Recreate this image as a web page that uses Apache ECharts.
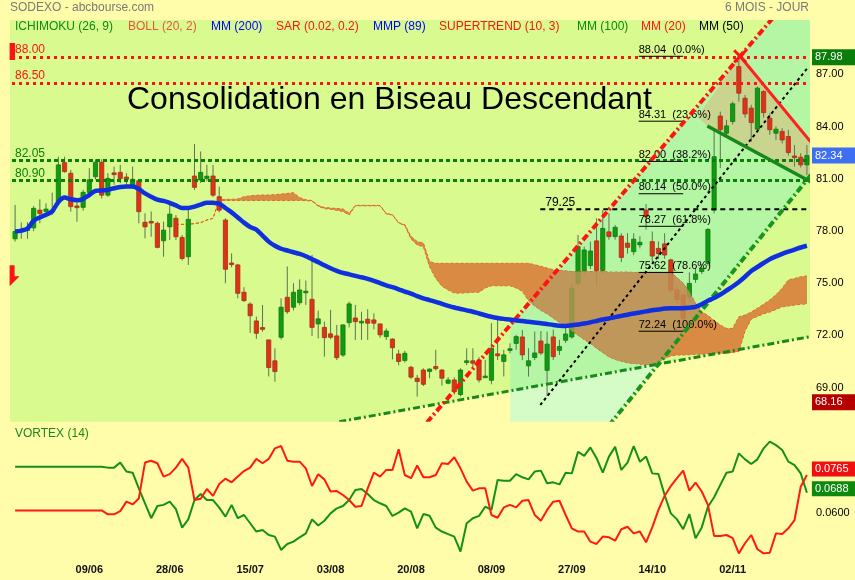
<!DOCTYPE html>
<html>
<head>
<meta charset="utf-8">
<title>SODEXO - 6 mois</title>
<script src="https://cdn.jsdelivr.net/npm/echarts@6.0.0/dist/echarts.min.js"></script>
<style>
  html, body { margin: 0; padding: 0; background: #fffcaa; }
  #chart { width: 855px; height: 580px; }
</style>
</head>
<body>
<div id="chart"></div>
<script>
const FONT = '"Liberation Sans", Arial, Helvetica, sans-serif';

// ---------- time axis: trading days starting 24/05/2021 ----------
const firstDay = [2021, 4, 24];
const dayCount = 129;
const dates = [];
{
  const d = new Date(Date.UTC(firstDay[0], firstDay[1], firstDay[2]));
  const p = n => (n < 10 ? '0' : '') + n;
  while (dates.length < dayCount) {
    const wd = d.getUTCDay();
    if (wd !== 0 && wd !== 6) dates.push(p(d.getUTCDate()) + '/' + p(d.getUTCMonth() + 1));
    d.setUTCDate(d.getUTCDate() + 1);
  }
}
const dateTicks = ['09/06', '28/06', '15/07', '03/08', '20/08', '08/09', '27/09', '14/10', '02/11'];
const priceTicks = [69, 72, 75, 78, 81, 84, 87];
const vortexTicks = [0.06, 0.08];

// ---------- daily candles: [open, close, low, high] ----------
const candles = [
  [77.55,77.97,77.39,79.50],[78.00,78.06,77.55,78.49],[78.08,78.12,77.55,78.51],[78.18,79.30,77.99,79.44],
  [79.20,79.01,78.44,79.82],[79.13,79.26,78.78,79.59],[79.15,79.19,78.93,80.20],[79.69,81.80,79.57,82.27],
  [81.93,81.41,81.35,82.27],[81.32,79.40,79.11,81.51],[79.44,79.34,78.53,79.79],[79.36,80.22,79.17,80.36],
  [80.22,80.94,80.16,81.61],[81.12,81.95,80.96,82.12],[81.95,80.06,79.87,82.12],[80.06,81.02,79.96,81.32],
  [81.34,81.24,80.65,81.70],[81.37,81.01,80.75,81.80],[81.10,80.97,80.65,81.32],[80.65,80.97,80.46,81.70],
  [80.89,79.11,78.44,80.93],[78.50,78.24,77.58,79.02],[78.55,78.51,77.67,79.12],[78.44,77.06,77.00,78.54],
  [77.44,78.05,76.52,78.54],[78.24,78.97,77.48,79.59],[78.73,77.67,77.48,78.92],[77.63,76.42,76.30,77.77],
  [76.52,78.67,76.05,79.40],[81.16,80.51,80.36,83.00],[80.93,81.37,80.76,82.57],[81.02,81.15,80.86,81.80],
  [81.16,80.06,79.96,81.80],[79.97,79.20,79.07,80.55],[78.63,75.80,75.00,78.73],[76.16,76.11,75.91,76.71],
  [76.05,74.42,74.13,76.11],[74.48,74.00,73.92,74.77],[73.80,73.13,72.14,73.90],[72.83,72.12,71.80,73.08],
  [72.45,72.35,72.21,73.75],[71.74,70.15,69.64,71.74],[70.54,69.92,69.34,71.26],[71.89,73.62,71.76,74.13],
  [74.19,73.36,73.24,75.96],[73.62,74.48,73.44,75.00],[73.88,74.61,73.74,75.22],[74.52,74.54,73.75,75.15],
  [74.07,72.46,71.97,76.63],[72.66,72.95,71.83,73.42],[72.46,71.87,70.78,72.79],[72.09,71.89,71.78,73.46],
  [71.97,70.72,70.58,72.60],[70.87,72.60,70.77,72.64],[72.73,73.81,72.46,73.94],[73.00,72.79,71.74,73.75],
  [72.77,72.81,71.74,73.36],[72.93,72.70,71.74,73.50],[72.89,72.70,72.35,73.27],[72.66,72.03,71.86,72.66],
  [71.93,72.25,71.74,72.40],[71.79,71.29,70.62,71.83],[70.93,70.50,70.28,71.17],[70.56,70.97,70.44,71.11],
  [70.17,69.60,69.49,70.25],[69.54,69.35,68.48,69.73],[70.01,69.19,69.09,70.11],[69.93,70.06,69.54,70.11],
  [70.21,70.09,69.98,71.17],[70.01,69.54,69.11,70.06],[69.25,69.44,69.19,69.60],[69.44,68.77,68.60,69.59],
  [68.60,70.01,68.50,70.11],[70.44,70.54,70.28,71.26],[70.54,70.40,70.18,71.26],[70.59,69.44,69.29,70.75],
  [69.62,69.66,69.59,70.59],[69.42,71.26,69.19,72.71],[70.94,70.83,70.58,72.89],[70.50,70.88,69.64,71.17],
  [71.17,71.23,70.97,71.54],[71.54,71.93,71.17,72.03],[71.91,70.88,70.58,72.31],[70.25,70.54,69.63,71.26],
  [70.73,70.99,70.58,72.22],[71.68,70.99,70.87,72.25],[69.99,71.50,68.52,72.22],[71.91,70.78,70.58,72.33],
  [71.14,71.36,70.87,71.74],[71.72,72.08,71.56,72.75],[71.91,74.71,71.81,75.00],[75.00,77.10,74.83,77.77],
  [75.71,76.91,75.52,77.10],[76.01,76.85,75.81,77.39],[77.43,75.73,74.81,78.73],[75.73,78.15,75.52,79.20],
  [77.95,77.68,77.50,79.01],[77.68,78.21,77.50,78.34],[77.71,76.48,76.21,77.87],[77.30,77.06,76.70,77.87],
  [76.81,77.53,76.61,77.87],[77.20,77.35,77.00,77.70],[79.20,78.83,78.08,79.55],[77.39,76.56,76.21,77.97],
  [77.00,76.70,76.40,77.40],[77.26,76.62,76.40,77.87],[76.34,74.61,74.43,76.41],[74.61,74.07,73.84,74.83],
  [74.32,72.98,72.24,74.43],[74.22,74.99,73.93,75.62],[75.22,75.53,75.02,75.87],[75.67,75.86,75.52,76.12],
  [76.14,78.09,76.01,78.16],[79.20,82.27,79.01,83.91],[84.61,83.82,81.61,84.86],[83.62,84.04,83.43,84.39],
  [84.29,85.31,84.12,85.44],[87.45,85.92,85.43,88.04],[85.63,84.73,84.51,85.82],[85.06,84.23,83.13,85.25],
  [83.85,86.21,83.72,86.30],[86.01,84.80,84.51,86.10],[84.48,83.82,83.53,84.76],[83.62,83.85,83.23,84.02],
  [83.72,83.23,83.03,83.91],[83.43,82.51,82.34,83.81],[82.31,82.24,81.70,82.94],[82.24,81.80,81.65,82.47],
  [81.80,82.34,81.22,82.94]
];

// ---------- moving average (blue) ----------
const movingAverage = [
  77.97,78.02,78.15,78.59,78.78,78.93,79.13,79.67,79.92,79.82,79.77,79.85,80.07,80.30,80.33,80.36,
  80.46,80.53,80.55,80.55,80.41,80.16,79.97,79.80,79.73,79.62,79.47,79.32,79.32,79.40,79.52,79.63,
  79.62,79.57,79.32,79.07,78.78,78.48,78.23,78.08,77.74,77.39,77.15,76.98,76.88,76.78,76.68,76.55,
  76.38,76.21,76.03,75.86,75.71,75.59,75.51,75.42,75.34,75.25,75.14,75.00,74.87,74.77,74.65,74.52,
  74.40,74.26,74.13,74.03,73.93,73.81,73.70,73.60,73.52,73.44,73.36,73.26,73.16,73.07,73.00,72.95,
  72.91,72.86,72.83,72.78,72.74,72.70,72.65,72.60,72.56,72.54,72.58,72.63,72.68,72.75,72.83,72.91,
  72.98,73.05,73.12,73.19,73.26,73.32,73.38,73.44,73.49,73.54,73.56,73.56,73.56,73.59,73.64,73.79,
  73.99,74.15,74.35,74.58,74.81,75.07,75.37,75.70,75.93,76.16,76.38,76.54,76.68,76.81,76.93,77.05,
  77.15
];

// ---------- Ichimoku cloud edges, from session index 26 ----------
const cloudStart = 26;
const cloudTop = [
  78.38,78.38,78.38,78.43,78.48,78.63,78.73,79.79,79.82,79.82,79.84,79.97,80.02,80.05,80.07,80.07,
  80.09,80.12,80.16,80.20,79.92,79.79,79.75,79.47,79.35,79.32,79.29,79.27,79.02,79.47,79.47,79.47,
  79.47,79.47,79.00,78.94,78.48,78.36,77.69,77.39,77.31,76.24,76.14,76.14,76.14,76.14,76.14,76.14,
  76.14,76.14,76.14,76.14,76.14,76.14,76.14,76.14,76.14,76.14,76.06,75.97,75.87,75.77,75.72,75.71,
  75.67,75.67,75.67,75.67,75.67,75.67,75.64,75.64,75.64,75.64,75.62,75.62,75.62,75.62,75.62,75.62,
  75.61,75.32,74.99,74.53,73.84,73.36,73.14,72.85,72.60,72.40,72.40,73.07,73.17,73.34,73.56,73.79,
  74.03,74.33,74.71,75.19,75.27,75.37,75.42
];
const cloudBottom = [
  78.38,78.38,78.38,78.43,78.48,78.63,78.73,79.77,79.75,79.75,79.75,79.75,79.75,79.75,79.75,79.75,
  79.75,79.75,79.75,79.75,79.75,79.75,79.72,79.42,79.29,79.25,79.19,79.12,78.92,79.45,79.45,79.45,
  79.45,79.45,78.98,78.92,78.46,78.32,77.54,77.20,77.10,75.95,75.28,74.83,74.61,74.43,74.43,74.45,
  74.48,74.48,74.73,74.85,74.85,74.85,74.85,74.73,74.53,73.99,73.69,73.44,73.24,72.99,72.75,72.55,
  72.25,72.01,71.76,71.54,71.26,71.02,70.77,70.62,70.52,70.42,70.39,70.35,70.33,70.32,70.47,70.67,
  70.82,70.87,70.87,70.89,70.92,70.92,70.95,70.97,70.97,70.97,71.02,71.07,72.25,72.94,73.09,73.24,
  73.34,73.49,73.64,73.69,73.74,73.79,73.81
];

// ---------- Vortex (14) ----------
const vortexPlus = [
  0.0801,0.0801,0.0801,0.0801,0.0801,0.0801,0.0801,0.0801,0.0801,0.0801,0.0801,0.0801,0.0801,0.0801,0.0801,
  0.0797,0.0797,0.0819,0.0780,0.0775,0.0707,0.0642,0.0577,0.0630,0.0635,0.0649,0.0616,0.0536,0.0572,0.0656,
  0.0682,0.0656,0.0656,0.0623,0.0584,0.0635,0.0577,0.0591,0.0555,0.0519,0.0526,0.0504,0.0497,0.0439,0.0465,
  0.0475,0.0494,0.0511,0.0572,0.0545,0.0566,0.0598,0.0620,0.0630,0.0656,0.0700,0.0704,0.0682,0.0656,0.0642,
  0.0630,0.0587,0.0601,0.0620,0.0606,0.0533,0.0595,0.0588,0.0536,0.0519,0.0508,0.0497,0.0432,0.0555,0.0577,
  0.0587,0.0627,0.0613,0.0743,0.0740,0.0740,0.0769,0.0755,0.0746,0.0780,0.0784,0.0729,0.0733,0.0724,0.0775,
  0.0772,0.0866,0.0848,0.0885,0.0838,0.0775,0.0845,0.0888,0.0787,0.0819,0.0891,0.0823,0.0845,0.0772,0.0769,
  0.0678,0.0598,0.0572,0.0529,0.0595,0.0490,0.0537,0.0627,0.0668,0.0722,0.0775,0.0780,0.0859,0.0833,0.0813,
  0.0833,0.0881,0.0910,0.0895,0.0874,0.0823,0.0808,0.0772,0.0688
];
const vortexMinus = [
  0.0611,0.0611,0.0611,0.0611,0.0611,0.0611,0.0611,0.0611,0.0611,0.0611,0.0611,0.0611,0.0611,0.0611,0.0611,
  0.0594,0.0594,0.0608,0.0649,0.0637,0.0663,0.0819,0.0827,0.0816,0.0758,0.0769,0.0797,0.0835,0.0797,0.0656,
  0.0662,0.0704,0.0674,0.0726,0.0749,0.0733,0.0758,0.0782,0.0797,0.0835,0.0816,0.0835,0.0881,0.0891,0.0827,
  0.0823,0.0823,0.0794,0.0717,0.0768,0.0746,0.0693,0.0695,0.0678,0.0656,0.0627,0.0630,0.0707,0.0775,0.0758,
  0.0787,0.0787,0.0877,0.0765,0.0751,0.0806,0.0755,0.0755,0.0765,0.0816,0.0813,0.0842,0.0794,0.0736,0.0697,
  0.0707,0.0707,0.0591,0.0579,0.0624,0.0635,0.0624,0.0653,0.0656,0.0591,0.0566,0.0613,0.0649,0.0653,0.0591,
  0.0533,0.0519,0.0519,0.0475,0.0465,0.0497,0.0494,0.0479,0.0529,0.0540,0.0511,0.0519,0.0472,0.0537,0.0613,
  0.0674,0.0717,0.0751,0.0784,0.0697,0.0732,0.0693,0.0635,0.0500,0.0500,0.0504,0.0490,0.0424,0.0468,0.0504,
  0.0442,0.0424,0.0427,0.0511,0.0508,0.0533,0.0569,0.0714,0.0765
];

// ---------- price levels and drawings, as [session index, price] ----------
const resistanceLevels = [88.00, 86.50];
const supportLevels = [82.05, 80.90];
const pivotLevel = 79.25;
const pivotSpan = [84.9, 128.2];
const fibLevels = [88.04, 84.31, 82.00, 80.14, 78.27, 75.62, 72.24];
const fibRatios = ['0.0%', '23.6%', '38.2%', '50.0%', '61.8%', '78.6%', '100.0%'];
const fibSpan = [100.8, 108.0];
const channelUpper = [[65, 66.34], [123, 90.45]];
const channelLower = [[96, 66.82], [130, 81.82]];
const channelMid = [[84.9, 68.00], [128.1, 87.37]];
const channelStart = 80.05;
const supportLine = [[52.4, 67.04], [130, 72.02]];
const wedgeTop = [[117.2, 88.04], [128.6, 83.13]];
const wedgeBottom = [[111.9, 84.03], [128.6, 80.83]];
const wedgeArea = [[110.3, 84.55], [117.2, 88.04], [128.6, 83.23], [128.6, 80.93], [111.9, 84.03]];
const lastClose = 82.34, upperMark = 87.98, lowerMark = 68.16;
const signalFlag = [-0.5, 75.4];

const Y_MIN = 67.04, Y_MAX = 90.126;

// ---------- geometry helpers ----------
const lineAt = seg => {
  const [[x1, y1], [x2, y2]] = seg;
  const k = (y2 - y1) / (x2 - x1);
  return x => y1 + k * (x - x1);
};
const upperAt = lineAt(channelUpper);
const lowerAt = lineAt(channelLower);
const supportAt = lineAt(supportLine);
const cloudAt = (arr, t) => {
  const k = t - cloudStart;
  if (k < 0 || k > arr.length - 1) return null;
  const a = Math.floor(k), b = Math.min(a + 1, arr.length - 1);
  return arr[a] + (arr[b] - arr[a]) * (k - a);
};
function band(api, t0, t1, upFn, loFn) {
  const polys = [];
  let up = [], lo = [];
  const flush = () => { if (up.length > 1) polys.push(up.concat(lo.reverse())); up = []; lo = []; };
  const n = Math.ceil((t1 - t0) / 0.1);
  for (let k = 0; k <= n; k++) {
    const t = t0 + (t1 - t0) * k / n;
    const u = upFn(t), l = loFn(t);
    if (u != null && l != null && u > l) { up.push(api.coord([t, u])); lo.push(api.coord([t, l])); }
    else flush();
  }
  flush();
  return polys;
}
const cloudUp = t => cloudAt(cloudTop, t);
const cloudLo = t => cloudAt(cloudBottom, t);
const brownUp = t => { const c = cloudUp(t); return c == null ? null : Math.min(c, upperAt(t)); };
const brownLo = t => { const c = cloudLo(t); return c == null ? null : Math.max(c, lowerAt(t)); };
const lastIdx = cloudStart + cloudTop.length - 1;

function cloudShapes(api, alpha) {
  const kids = [];
  const pts = [];
  for (let i = 0; i < cloudTop.length; i++) pts.push(api.coord([cloudStart + i, cloudTop[i]]));
  for (let i = cloudBottom.length - 1; i >= 0; i--) pts.push(api.coord([cloudStart + i, cloudBottom[i]]));
  kids.push({ type: 'polygon', shape: { points: pts }, style: { fill: '#d98b43', opacity: alpha } });
  band(api, cloudStart, lastIdx, t => { const c = cloudUp(t); return c == null ? null : Math.min(c, supportAt(t)); }, cloudLo)
    .forEach(p => kids.push({ type: 'polygon', shape: { points: p }, style: { fill: '#ee7a58', opacity: alpha } }));
  band(api, channelStart, lastIdx, brownUp, brownLo)
    .forEach(p => kids.push({ type: 'polygon', shape: { points: p }, style: { fill: '#b89b62', opacity: alpha } }));
  return kids;
}

const chart = echarts.init(document.getElementById('chart'), null, { renderer: 'canvas' });

const legendItems = [
  ['ICHIMOKU (26, 9)', '#128a12', 15], ['BOLL (20, 2)', '#e8553c', 128], ['MM (200)', '#0000ff', 211],
  ['SAR (0.02, 0.2)', '#ff1414', 276], ['MMP (89)', '#0000ff', 373], ['SUPERTREND (10, 3)', '#ff1414', 439],
  ['MM (100)', '#0a8a0a', 577], ['MM (20)', '#ff1414', 641], ['MM (50)', '#000000', 699]
];

const graphics = [
  { type: 'rect', left: 10, top: 20, shape: { width: 3, height: 401.7 }, style: { fill: '#d8fa8e' }, z: 0 },
  { type: 'text', left: 10, top: 2, style: { text: 'SODEXO - abcbourse.com', fill: '#7a7a7a', font: '12px ' + FONT } },
  { type: 'text', right: 46, top: 2, style: { text: '6 MOIS - JOUR', fill: '#7a7a7a', font: '12px ' + FONT } },
  { type: 'text', left: 127, top: 84, z: 20, style: { text: 'Consolidation en Biseau Descendant', fill: '#000', font: '32px ' + FONT } },
  { type: 'text', left: 15, top: 428, style: { text: 'VORTEX (14)', fill: '#1a8a1a', font: '12px ' + FONT } }
].concat(legendItems.map(([t, c, x]) => ({
  type: 'text', left: x, top: 21, z: 20, style: { text: t, fill: c, font: '12px ' + FONT }
})));

const levelMark = (v, color, dash) => ({
  yAxis: v,
  lineStyle: { color, width: 3, type: dash },
  label: { show: true, position: 'insideStartTop', formatter: v.toFixed(2), color, fontSize: 12, fontFamily: FONT, distance: [3, 1] }
});
const boxMark = (v, bg) => ({
  yAxis: v,
  lineStyle: { color: 'rgba(0,0,0,0)', width: 1 },
  label: { show: true, position: 'end', distance: 2, formatter: v.toFixed(2), color: '#fff', backgroundColor: bg,
           opacity: 1, fontSize: 11, fontFamily: FONT, padding: [2, 9, 2, 3] }
});

const option = {
  animation: false,
  backgroundColor: '#fffcaa',
  graphic: graphics,
  grid: [
    { left: 12, right: 45, top: 20, height: 401.7 },
    { left: 12, right: 45, top: 430, bottom: 24 }
  ],
  xAxis: [
    { type: 'category', gridIndex: 0, data: dates, boundaryGap: true, show: false },
    { type: 'category', gridIndex: 1, data: dates, boundaryGap: true,
      axisLine: { show: false }, axisTick: { show: false }, splitLine: { show: false },
      axisLabel: { interval: (idx, val) => dateTicks.includes(val), color: '#111', fontWeight: 'bold',
                   fontSize: 11, fontFamily: FONT, margin: 8 } },
    { type: 'value', gridIndex: 0, min: -0.5, max: dayCount - 0.5, show: false }
  ],
  yAxis: [
    { type: 'value', gridIndex: 0, position: 'right', min: Y_MIN, max: Y_MAX,
      axisLine: { show: false }, axisTick: { show: false }, splitLine: { show: false },
      axisLabel: { customValues: priceTicks, formatter: v => v.toFixed(2), color: '#000', fontSize: 11,
                   fontFamily: FONT, margin: 6, padding: [0, 0, 6, 0] } },
    { type: 'value', gridIndex: 1, position: 'right', min: 0.04126, max: 0.09607,
      axisLine: { show: false }, axisTick: { show: false }, splitLine: { show: false },
      axisLabel: { customValues: vortexTicks, formatter: v => v.toFixed(4), color: '#000', fontSize: 11,
                   fontFamily: FONT, margin: 6 } }
  ],
  series: [
    // green zone above the long support line
    {
      type: 'custom', xAxisIndex: 2, yAxisIndex: 0, data: [[0, 70]], silent: true, clip: true, z: 1,
      renderItem: (params, api) => {
        const pts = [[-0.5, Y_MAX + 1], [dayCount, Y_MAX + 1], [dayCount, supportAt(dayCount)], [-0.5, supportAt(-0.5)]]
          .map(p => api.coord(p));
        return { type: 'polygon', shape: { points: pts }, style: { fill: '#d8fa8e' } };
      }
    },
    // channel fill, cloud and wedge (under the candles)
    {
      type: 'custom', xAxisIndex: 2, yAxisIndex: 0, data: [[0, 70]], silent: true, clip: true, z: 2,
      renderItem: (params, api) => {
        const kids = [];
        band(api, channelStart, dayCount, upperAt, t => Math.max(lowerAt(t), supportAt(t)))
          .forEach(p => kids.push({ type: 'polygon', shape: { points: p }, style: { fill: '#b4f6a4' } }));
        band(api, channelStart, dayCount, t => Math.min(upperAt(t), supportAt(t)), t => Math.max(lowerAt(t), Y_MIN - 1))
          .forEach(p => kids.push({ type: 'polygon', shape: { points: p }, style: { fill: '#d5fbc6' } }));
        cloudShapes(api, 1).forEach(k => kids.push(k));
        const edge = arr => arr.map((v, i) => api.coord([cloudStart + i, v]));
        kids.push({ type: 'polyline', shape: { points: edge(cloudTop) }, style: { stroke: '#e2602a', lineWidth: 1, lineDash: [3, 2], fill: null } });
        kids.push({ type: 'polyline', shape: { points: edge(cloudBottom) }, style: { stroke: '#e2602a', lineWidth: 1, lineDash: [3, 2], fill: null } });
        kids.push({ type: 'polygon', shape: { points: wedgeArea.map(p => api.coord(p)) }, style: { fill: '#c9d58f' } });
        return { type: 'group', children: kids };
      }
    },
    // candles
    {
      type: 'custom', xAxisIndex: 0, yAxisIndex: 0, silent: true, z: 3,
      data: candles.map((c, i) => [i, c[0], c[1], c[2], c[3]]),
      encode: { x: 0, y: [1, 2, 3, 4] },
      renderItem: (params, api) => {
        const i = api.value(0), o = api.value(1), c = api.value(2), l = api.value(3), h = api.value(4);
        const po = api.coord([i, o]), pc = api.coord([i, c]), pl = api.coord([i, l]), ph = api.coord([i, h]);
        const w = 4.2, rising = c >= o;
        const top = Math.min(po[1], pc[1]);
        const hgt = Math.max(1.6, Math.abs(po[1] - pc[1]));
        return {
          type: 'group', children: [
            { type: 'line', shape: { x1: ph[0], y1: ph[1], x2: pl[0], y2: pl[1] }, style: { stroke: '#5e7157', lineWidth: 1 } },
            { type: 'rect', shape: { x: po[0] - w / 2, y: top, width: w, height: hgt },
              style: { fill: rising ? '#129a12' : '#dc3414', stroke: rising ? '#0b7b0b' : '#a4301c', lineWidth: 0.8 } }
          ]
        };
      }
    },
    // cloud veil over the candles
    {
      type: 'custom', xAxisIndex: 2, yAxisIndex: 0, data: [[0, 70]], silent: true, clip: true, z: 4,
      renderItem: (params, api) => ({ type: 'group', children: cloudShapes(api, 0.5) })
    },
    // trend lines, channel, wedge, Fibonacci retracement
    {
      type: 'custom', xAxisIndex: 2, yAxisIndex: 0, data: [[0, 70]], silent: true, clip: true, z: 5,
      renderItem: (params, api) => {
        const kids = [];
        const seg = (s, stroke, lineWidth, lineDash) => {
          const a = api.coord(s[0]), b = api.coord(s[1]);
          kids.push({ type: 'line', shape: { x1: a[0], y1: a[1], x2: b[0], y2: b[1] }, style: { stroke, lineWidth, lineDash: lineDash || null } });
        };
        seg(supportLine, '#17881a', 3, [7, 3, 2, 3]);
        seg(channelMid, '#000', 2, [3, 3]);
        seg([[pivotSpan[0], pivotLevel], [pivotSpan[1], pivotLevel]], '#000', 2, [5, 4]);
        fibLevels.forEach((v, k) => {
          seg([[fibSpan[0], v], [fibSpan[1], v]], '#000', 1);
          const p = api.coord([fibSpan[0], v]);
          kids.push({ type: 'text', x: p[0], y: p[1] - 1, style: { text: v.toFixed(2) + '  (' + fibRatios[k] + ')', fill: '#000',
            font: '11px ' + FONT, textAlign: 'left', textVerticalAlign: 'bottom' } });
        });
        const pv = api.coord([pivotSpan[0] + 0.8, pivotLevel]);
        kids.push({ type: 'text', x: pv[0], y: pv[1] - 1, style: { text: pivotLevel.toFixed(2), fill: '#000', font: '12px ' + FONT, textAlign: 'left', textVerticalAlign: 'bottom' } });
        seg(channelLower, '#16961a', 4, [7, 3, 2, 3]);
        seg(channelUpper, '#ff1414', 4, [7, 3, 2, 3]);
        seg(wedgeBottom, '#17881a', 3.5);
        seg(wedgeTop, '#ff2020', 3);
        const x = api.coord(wedgeTop[0]);
        kids.push({ type: 'line', shape: { x1: x[0] - 6, y1: x[1] - 6, x2: x[0] + 6, y2: x[1] + 6 }, style: { stroke: '#ff1414', lineWidth: 3 } });
        kids.push({ type: 'line', shape: { x1: x[0] - 6, y1: x[1] + 6, x2: x[0] + 6, y2: x[1] - 6 }, style: { stroke: '#ff1414', lineWidth: 3 } });
        return { type: 'group', children: kids };
      }
    },
    // left-edge markers and right-edge price boxes (not clipped)
    {
      type: 'custom', xAxisIndex: 2, yAxisIndex: 0, data: [[0, 70]], silent: true, clip: false, z: 7,
      renderItem: (params, api) => {
        const r = api.coord([-0.5, resistanceLevels[0]]);
        const f = api.coord(signalFlag);
        const x0 = r[0] - 2.4;
        const kids = [
          { type: 'rect', shape: { x: x0, y: r[1] - 14, width: 5.5, height: 17 }, style: { fill: '#ff1414' } },
          { type: 'polygon', shape: { points: [[x0, f[1] - 11], [x0 + 5, f[1] - 11], [x0 + 5, f[1]], [x0 + 10, f[1]], [x0, f[1] + 10]] },
            style: { fill: '#ff1414' } }
        ];
        [[upperMark, '#0a7d0a'], [lastClose, '#3e6ff2'], [lowerMark, '#b50000']].forEach(([v, bg]) => {
          const p = api.coord([dayCount - 0.5, v]);
          kids.push({ type: 'rect', shape: { x: p[0] + 2, y: p[1] - 8, width: 44, height: 16 }, style: { fill: bg } });
          kids.push({ type: 'text', x: p[0] + 5, y: p[1], style: { text: v.toFixed(2), fill: '#fff', font: '11px ' + FONT,
            textAlign: 'left', textVerticalAlign: 'middle' } });
        });
        return { type: 'group', children: kids };
      }
    },
    // blue moving average + horizontal levels
    {
      type: 'line', xAxisIndex: 0, yAxisIndex: 0, data: movingAverage, showSymbol: false, smooth: 0.3, z: 6,
      lineStyle: { color: '#1030e0', width: 4.5 }, silent: true,
      markLine: {
        silent: true, symbol: ['none', 'none'], animation: false,
        data: resistanceLevels.map(v => levelMark(v, '#ff1414', [3, 4]))
          .concat(supportLevels.map(v => levelMark(v, '#0a800a', [4, 3])))
      }
    },
    // Vortex lines
    {
      type: 'line', xAxisIndex: 1, yAxisIndex: 1, data: vortexPlus, showSymbol: false, z: 3,
      lineStyle: { color: '#14901a', width: 2 }, silent: true,
      endLabel: { show: true, formatter: p => p.value.toFixed(4), color: '#fff', backgroundColor: '#0d8a0d',
                  fontSize: 11, fontFamily: FONT, padding: [2, 9, 2, 3], distance: 5, offset: [0, -4] }
    },
    {
      type: 'line', xAxisIndex: 1, yAxisIndex: 1, data: vortexMinus, showSymbol: false, z: 3,
      lineStyle: { color: '#ff1a14', width: 2 }, silent: true,
      endLabel: { show: true, formatter: p => p.value.toFixed(4), color: '#fff', backgroundColor: '#f01010',
                  fontSize: 11, fontFamily: FONT, padding: [2, 9, 2, 3], distance: 5, offset: [0, -6] }
    }
  ]
};
chart.setOption(option);
</script>
</body>
</html>
